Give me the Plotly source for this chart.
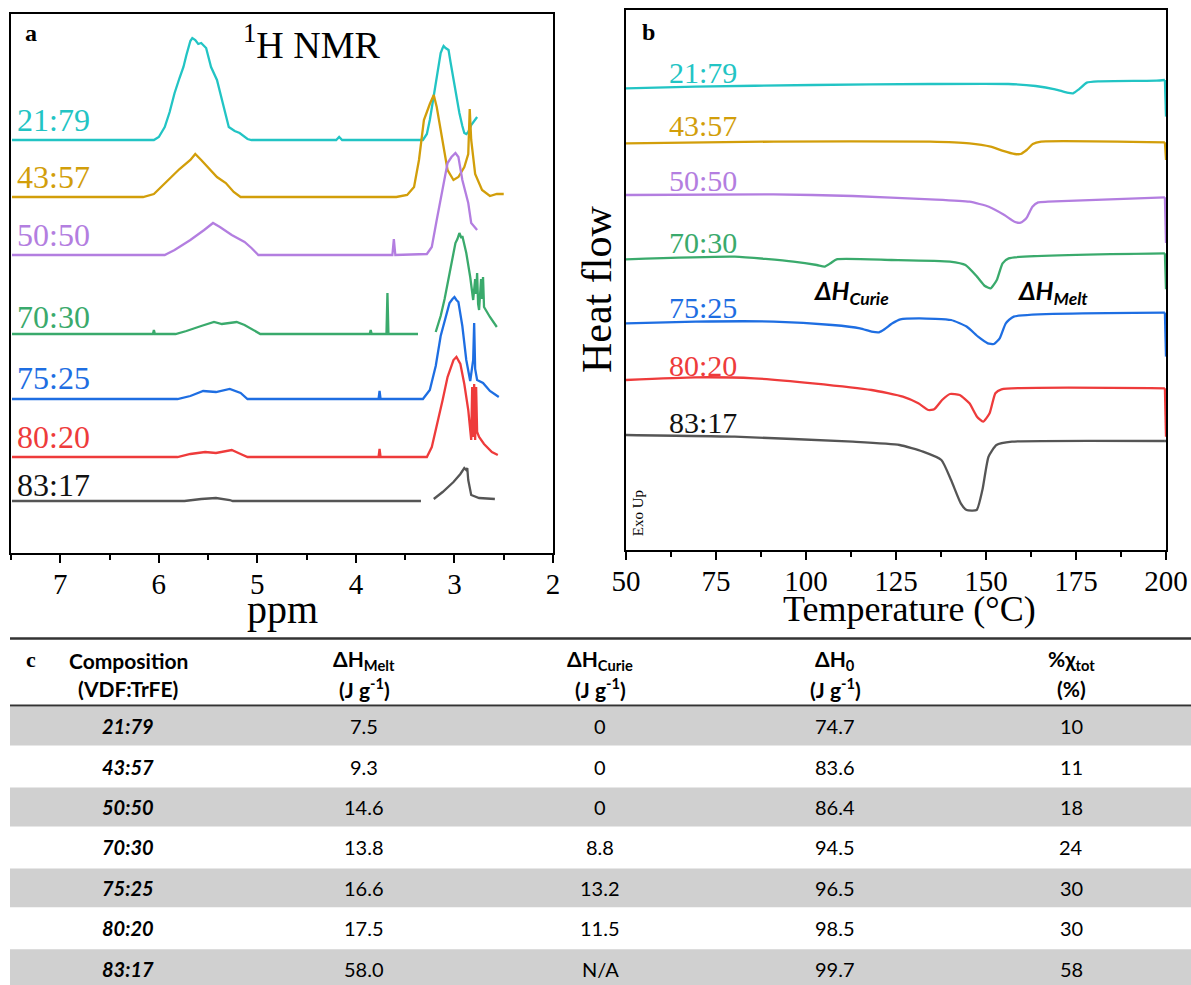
import plotly.graph_objects as go

W, H = 1191, 985
SERIF = "Liberation Serif"
SANS = "Lato"

# ---------------- data ----------------
samples = ["21:79", "43:57", "50:50", "70:30", "75:25", "80:20", "83:17"]
colors = ["#22C4C4", "#D29E0A", "#B37EE0", "#3AAA6C", "#1E6EE2", "#EE3B3B", "#555555"]
label_colors = ["#22C4C4", "#D29E0A", "#B37EE0", "#3AAA6C", "#1E6EE2", "#EE3B3B", "#111111"]

# 1H NMR spectra (ppm, intensity a.u.)
nmr_ppm_2179 = [7.49, 6.05, 6.00, 5.94, 5.89, 5.84, 5.79, 5.75, 5.72, 5.70, 5.68, 5.66, 5.63, 5.60, 5.57, 5.52,
                5.47, 5.41, 5.36, 5.29, 5.23, 5.18, 5.10, 5.06, 4.20, 4.17, 4.14, 3.32, 3.28, 3.25, 3.22, 3.19,
                3.16, 3.14, 3.12, 3.11, 3.09, 3.06, 3.04, 3.01, 2.98, 2.95, 2.92, 2.90, 2.88, 2.86, 2.83, 2.77]
nmr_int_2179 = [0, 0, 3, 13, 28, 47, 62, 73, 85, 93, 99, 102, 100, 96, 97, 92,
                73, 60, 40, 13, 9, 7, 1, 0, 0, 3, 0, 0, 6, 20, 38, 57,
                75, 87, 92, 94, 92, 90, 78, 60, 42, 27, 14, 7, 6, 8, 15, 23]
nmr_ppm_4357 = [7.49, 6.16, 6.05, 5.90, 5.79, 5.68, 5.63, 5.57, 5.50, 5.41, 5.32, 5.24, 5.17, 3.59, 3.48, 3.41,
                3.36, 3.31, 3.25, 3.21, 3.18, 3.12, 3.07, 3.01, 2.96, 2.90, 2.86, 2.845, 2.83, 2.79, 2.72, 2.64,
                2.57, 2.50]
nmr_int_4357 = [0, 0, 3, 17, 28, 37, 43, 37, 30, 20, 14, 5, 0, 0, 2, 10,
                37, 77, 93, 102, 90, 57, 27, 17, 20, 30, 43, 88, 57, 23, 7, 1,
                3, 3]
nmr_ppm_5050 = [7.49, 5.94, 5.84, 5.68, 5.54, 5.45, 5.38, 5.26, 5.13, 5.06, 4.99, 3.63, 3.615, 3.60, 3.28, 3.23,
                3.18, 3.12, 3.07, 3.03, 2.99, 2.96, 2.92, 2.86, 2.83, 2.77]
nmr_int_5050 = [0, 0, 5, 15, 25, 32, 28, 20, 13, 7, 0, 0, 16, 0, 1, 8,
                35, 68, 92, 98, 102, 98, 75, 52, 32, 25]
nmr_ppm_7030 = [7.49, 6.06, 6.05, 6.04, 5.83, 5.72, 5.57, 5.44, 5.36, 5.21, 5.13, 5.04, 4.97, 3.86, 3.85, 3.84,
                3.69, 3.68, 3.67, 3.37, None, 3.19, 3.14, 3.10, 3.05, 2.99, 2.97, 2.95, 2.93, 2.92, 2.88, 2.84,
                2.81, 2.79, 2.78, 2.77, 2.76, 2.75, 2.73, 2.72, 2.71, 2.70, 2.64, 2.57]
nmr_int_7030 = [0, 0, 4, 0, 0, 3, 8, 12, 10, 12, 9, 4, 0, 0, 4, 0,
                0, 41, 0, 0, None, 2, 18, 35, 61, 91, 95, 101, 96, 98, 81, 57,
                34, 55, 40, 61, 30, 24, 55, 35, 57, 27, 17, 7]
nmr_ppm_7525 = [7.49, 5.81, 5.68, 5.55, 5.42, 5.28, 5.17, 5.10, 3.77, 3.76, 3.75, 3.32, 3.25, 3.19, 3.14, 3.08,
                3.05, 3.02, 3.00, 2.98, 2.96, 2.92, 2.88, 2.84, 2.81, 2.80, 2.79, 2.77, 2.71, 2.64, 2.55]
nmr_int_7525 = [0, 0, 3, 8, 7, 10, 6, 0, 0, 8, 0, 0, 9, 33, 63, 86,
                96, 100, 102, 99, 97, 73, 39, 18, 39, 76, 30, 19, 16, 8, 2]
nmr_ppm_8020 = [7.49, 5.81, 5.68, 5.53, 5.42, 5.26, 5.17, 5.10, 3.77, 3.76, 3.75, 3.28, 3.23, 3.18, 3.12, 3.07,
                3.01, 2.98, 2.94, 2.90, 2.86, 2.83, 2.82, 2.81, 2.80, 2.79, 2.78, 2.77, 2.75, 2.70, 2.62, 2.56]
nmr_int_8020 = [0, 0, 3, 5, 4, 7, 3, 0, 0, 8, 0, 0, 10, 30, 57, 80,
                97, 100, 93, 73, 47, 17, 70, 20, 73, 17, 70, 25, 20, 13, 5, 2]
nmr_ppm_8317 = [7.49, 5.74, 5.57, 5.42, 5.28, 5.25, 3.34, None, 3.21, 3.12, 3.01, 2.94, 2.90, 2.88, 2.87, 2.86,
                2.83, 2.75, 2.59]
nmr_int_8317 = [0, 0, 2, 3, 1, 0, 0, None, 2, 9, 19, 27, 33, 31, 33, 21,
                6, 3, 2]

nmr_ppm = [nmr_ppm_2179, nmr_ppm_4357, nmr_ppm_5050, nmr_ppm_7030, nmr_ppm_7525, nmr_ppm_8020, nmr_ppm_8317]
nmr_int = [nmr_int_2179, nmr_int_4357, nmr_int_5050, nmr_int_7030, nmr_int_7525, nmr_int_8020, nmr_int_8317]
nmr_offsets = [413, 356, 298, 219, 154, 96, 52]

# DSC curves (temperature degC, heat flow a.u. relative to start); last point = end-of-run drop
dsc_T_2179 = [50, 69.3, 101.9, 134.5, 156.2, 163.8, 169.2, 172.5, 174.2, 175.8, 178, 181.3, 197.4, 199.7, 200]
dsc_hf_2179 = [0, 1.7, 3.3, 4.3, 4.3, 2.3, -1, -4.3, -5, -1, 5.7, 7, 7.7, 8.3, -28.3]
dsc_T_4357 = [50, 91, 134.5, 145.4, 151.3, 154.5, 158, 159.6, 161.3, 163, 165.3, 199.7, 200]
dsc_hf_4357 = [0, 1.7, 1.7, 0, -3.3, -7.3, -10.7, -10.7, -6.7, -0.7, 1.7, 1, -16.7]
dsc_T_5050 = [50, 91, 113, 134.5, 145.4, 150.8, 155.1, 157.9, 159.6, 161.2, 162.9, 164.5, 167.2, 199.7, 200]
dsc_hf_5050 = [0, 0.7, -1, -4.3, -6.7, -11.7, -20, -26.7, -27.7, -23.3, -11.7, -7.3, -6.7, -2.3, -48]
dsc_T_7030 = [50, 80.2, 96.5, 103, 105.2, 106.8, 108.5, 123.7, 140, 144.3, 147.5, 149.7, 151.3, 153, 154.6, 156.3,
              199.7, 200]
dsc_hf_7030 = [0, 2.7, -2.3, -5.7, -7.3, -4, 0, -0.7, -2.3, -5.7, -17.3, -26.7, -29, -20.7, -4, 1,
               6, -30]
dsc_T_7525 = [50, 69.3, 91, 107.3, 115, 118.2, 120.3, 121.8, 124, 126.2, 131.6, 140.3, 144.6, 147.8, 150.5, 152.2,
              153.8, 155.5, 157.7, 199.7, 200]
dsc_hf_7525 = [0, 1.7, 1.7, -1.7, -5, -8.3, -9, -6, 0, 4, 5, 3.3, -3.3, -13.3, -20, -20.7,
               -15, 0, 6.7, 10.7, -33.3]
dsc_T_8020 = [50, 69.3, 85.6, 101.9, 118.2, 126.9, 131.2, 134, 135.6, 137.8, 140, 142.7, 145.4, 147.5, 149.2, 151,
              152.6, 154.3, 199.7, 200]
dsc_hf_8020 = [0, 2.7, 1.7, -3.3, -10, -16.7, -23.3, -30, -29.3, -20, -14, -15, -23.3, -36.7, -41.7, -33.3,
               -13.3, -9.3, -8.3, -56.7]
dsc_T_8317 = [50, 80.2, 113, 126, 132.5, 137.6, 140.3, 143, 144.6, 147.4, 149, 150.7, 152.9, 157.2, 199.7, 200]
dsc_hf_8317 = [0, -1.7, -6.7, -10, -16.7, -25, -45, -68.3, -75, -75, -55, -21.7, -10, -6.7, -6, -6]

dsc_T = [dsc_T_2179, dsc_T_4357, dsc_T_5050, dsc_T_7030, dsc_T_7525, dsc_T_8020, dsc_T_8317]
dsc_hf = [dsc_hf_2179, dsc_hf_4357, dsc_hf_5050, dsc_hf_7030, dsc_hf_7525, dsc_hf_8020, dsc_hf_8317]
dsc_offsets = [461.7, 406.7, 355, 290.7, 226.7, 170, 115]

# Table
tbl_comp = samples
tbl_dH_melt = [7.5, 9.3, 14.6, 13.8, 16.6, 17.5, 58.0]
tbl_dH_curie = [0, 0, 0, 8.8, 13.2, 11.5, None]
tbl_dH0 = [74.7, 83.6, 86.4, 94.5, 96.5, 98.5, 99.7]
tbl_chi = [10, 11, 18, 24, 30, 30, 58]


# ---------------- helpers (pixel -> paper fraction) ----------------
def px(x):
    return x / W


def py(y):
    return 1 - y / H


fig = go.Figure()

for i, s in enumerate(samples):
    yy = [None if v is None else v + nmr_offsets[i] for v in nmr_int[i]]
    fig.add_trace(go.Scatter(x=nmr_ppm[i], y=yy, mode="lines", name=s, showlegend=False,
                             line=dict(color=colors[i], width=2.3), connectgaps=False,
                             xaxis="x", yaxis="y"))
for i, s in enumerate(samples):
    yy = [v + dsc_offsets[i] for v in dsc_hf[i]]
    # smooth curve up to the end of the scan, then the straight end-of-run drop
    fig.add_trace(go.Scatter(x=dsc_T[i][:-1], y=yy[:-1], mode="lines", name=s, showlegend=False,
                             line=dict(color=colors[i], width=2.3, shape="spline", smoothing=0.5),
                             xaxis="x2", yaxis="y2"))
    fig.add_trace(go.Scatter(x=dsc_T[i][-2:], y=yy[-2:], mode="lines", name=s, showlegend=False,
                             line=dict(color=colors[i], width=2.3), xaxis="x2", yaxis="y2"))

axis_common = dict(showline=True, linecolor="black", linewidth=2, mirror=True, showgrid=False, zeroline=False,
                   automargin=False)
xtick_common = dict(ticks="outside", ticklen=8, tickwidth=2, tickcolor="black", ticklabeloverflow="allow",
                    ticklabelstandoff=-4, tickfont=dict(family=SERIF, size=29, color="black"))

fig.update_layout(
    width=W, height=H, margin=dict(l=0, r=0, t=0, b=0, autoexpand=False),
    paper_bgcolor="white", plot_bgcolor="white",
    xaxis=dict(domain=[px(11), px(553)], range=[7.5, 2], anchor="y", tickvals=[7, 6, 5, 4, 3, 2],
               minor=dict(dtick=0.5, ticks="outside", ticklen=5, tickwidth=2, tickcolor="black"),
               **xtick_common, **axis_common),
    yaxis=dict(domain=[py(553), py(14)], range=[0, 539], anchor="x", showticklabels=False, ticks="",
               **axis_common),
    xaxis2=dict(domain=[px(626), px(1166)], range=[50, 200], anchor="y2",
                tickvals=[50, 75, 100, 125, 150, 175, 200],
                minor=dict(dtick=12.5, ticks="outside", ticklen=5, tickwidth=2, tickcolor="black"),
                **xtick_common, **axis_common),
    yaxis2=dict(domain=[py(550), py(10)], range=[0, 540], anchor="x2", showticklabels=False, ticks="",
                **axis_common),
)

ann = []


def A(x, y, text, size, family=SERIF, color="black", xref="paper", yref="paper", xanchor="center",
      yanchor="middle", angle=0):
    ann.append(dict(x=x, y=y, xref=xref, yref=yref, text=text, showarrow=False, xanchor=xanchor,
                    yanchor=yanchor, textangle=angle, font=dict(family=family, size=size, color=color)))


# panel letters & titles
A(px(31), py(33), "<b>a</b>", 24)
A(px(648), py(32), "<b>b</b>", 24)
A(px(311), py(42), "<sup>1</sup>H NMR", 38)
A(px(282), py(609), "ppm", 40)
A(px(909), py(609), "Temperature (°C)", 36)
A(px(597), py(290), "Heat flow", 42, angle=-90)
A(53.4, 37, "Exo Up", 15, xref="x2", yref="y2", angle=-90)
A(101.4, 258, "<b><i>ΔH<sub>Curie</sub></i></b>", 25, family=SANS, xref="x2", yref="y2", xanchor="left")
A(158, 258, "<b><i>ΔH<sub>Melt</sub></i></b>", 25, family=SANS, xref="x2", yref="y2", xanchor="left")

nmr_label_y = [433, 376, 318, 236, 175, 116, 68]
dsc_label_y = [478, 425, 370, 308, 243, 185, 128]
for i, s in enumerate(samples):
    A(7.46, nmr_label_y[i], s, 32, color=label_colors[i], xref="x", yref="y", xanchor="left")
    A(61.5, dsc_label_y[i], s, 30, color=label_colors[i], xref="x2", yref="y2", xanchor="left")

# ---------------- table ----------------
shapes = []
row_top, row_h = 706, 40.4
col_x = [128, 364, 600, 835, 1071]
for i in range(len(tbl_comp)):
    if i % 2 == 0:
        shapes.append(dict(type="rect", xref="paper", yref="paper", x0=px(10), x1=1,
                           y0=py(row_top + row_h * (i + 1) - 0.8), y1=py(row_top + row_h * i + 0.8),
                           fillcolor="#D0D0D0", line=dict(width=0), layer="below"))
shapes.append(dict(type="line", xref="paper", yref="paper", x0=px(10), x1=1, y0=py(638.5), y1=py(638.5),
                   line=dict(color="#333333", width=2.5)))
shapes.append(dict(type="line", xref="paper", yref="paper", x0=px(10), x1=1, y0=py(705.5), y1=py(705.5),
                   line=dict(color="#333333", width=2)))

A(px(31), py(659), "<b>c</b>", 22)
hdr1 = ["Composition", "ΔH<sub>Melt</sub>", "ΔH<sub>Curie</sub>", "ΔH<sub>0</sub>", "%χ<sub>tot</sub>"]
hdr2 = ["(VDF:TrFE)", "(J g<sup>-1</sup>)", "(J g<sup>-1</sup>)", "(J g<sup>-1</sup>)", "(%)"]
for j in range(5):
    A(px(col_x[j]), py(660), "<b>" + hdr1[j] + "</b>", 21, family=SANS)
    A(px(col_x[j]), py(688), "<b>" + hdr2[j] + "</b>", 21, family=SANS)


def fmt1(v):
    if v is None:
        return "N/A"
    if v == 0:
        return "0"
    return f"{v:.1f}"


for i in range(len(tbl_comp)):
    yc = py(row_top + row_h * (i + 0.5))
    cells = ["<b><i>" + tbl_comp[i] + "</i></b>", fmt1(tbl_dH_melt[i]), fmt1(tbl_dH_curie[i]),
             fmt1(tbl_dH0[i]), str(tbl_chi[i])]
    for j in range(5):
        A(px(col_x[j]), yc, cells[j], 20, family=SANS)

fig.update_layout(annotations=ann, shapes=shapes)
fig.write_html("out.html", config={"displayModeBar": False},
               post_script="document.body.style.margin='0';document.body.style.overflow='hidden';")
